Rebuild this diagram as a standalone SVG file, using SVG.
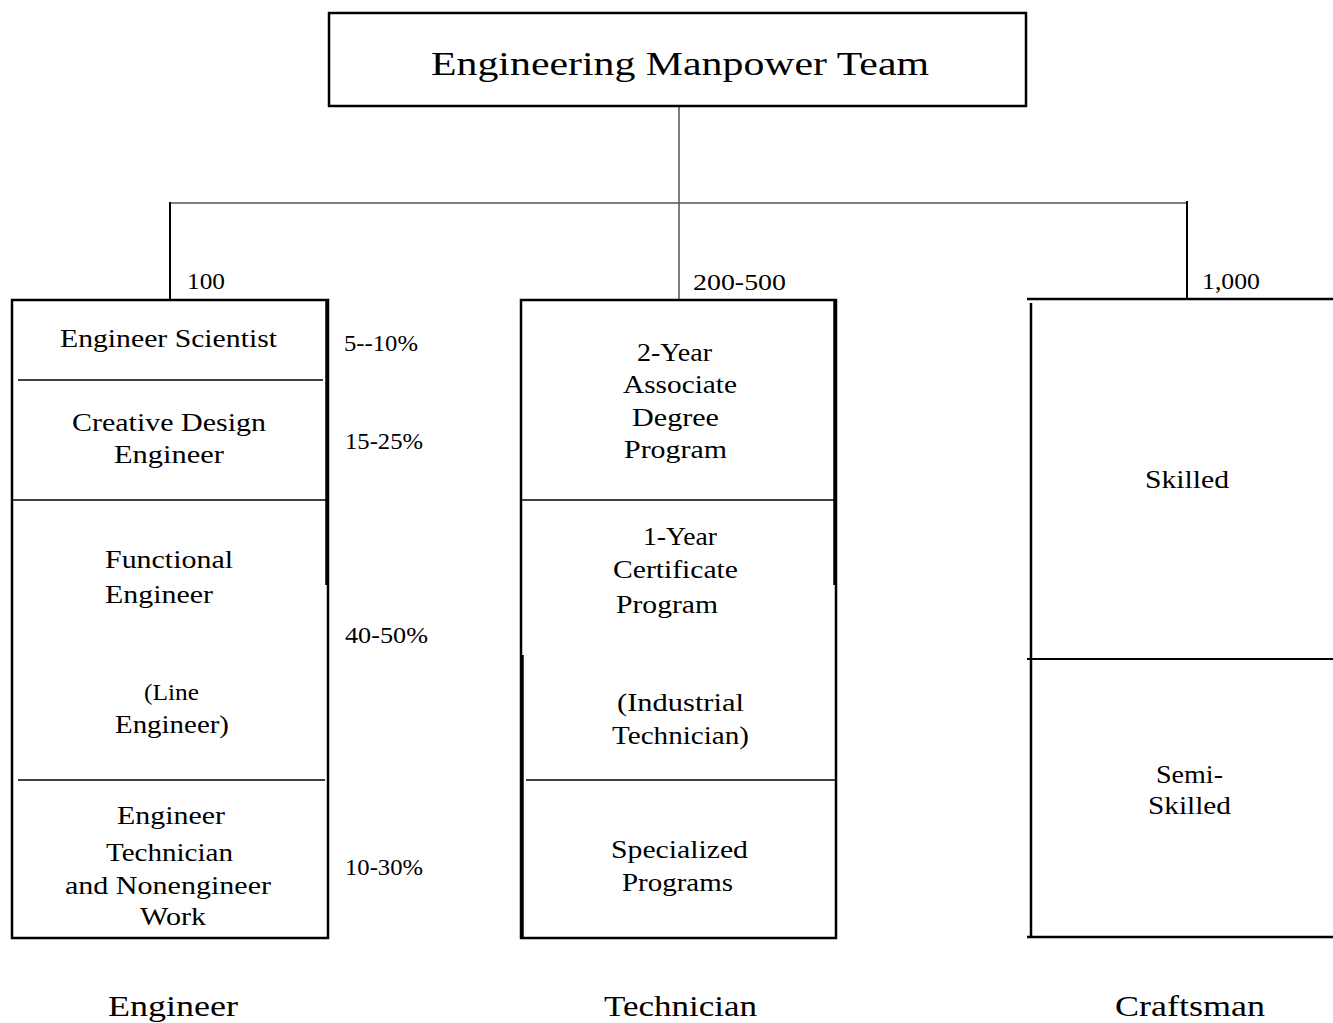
<svg xmlns="http://www.w3.org/2000/svg" width="1333" height="1023" viewBox="0 0 1333 1023">
<style>
text{font-family:"Liberation Serif","Times New Roman",serif;fill:#000}
.t{font-size:26px;text-anchor:middle}
.s{font-size:26px;text-anchor:start}
.n{font-size:23px}
.b{font-size:29px;text-anchor:middle}
.box{fill:none;stroke:#000;stroke-width:2.5}
.ln{stroke:#000;stroke-width:1.5;fill:none}
.thin{stroke:#555;stroke-width:1.5;fill:none}
</style>
<rect width="1333" height="1023" fill="#fff"/>
<g id="connectors">
<line class="thin" x1="679" y1="106" x2="679" y2="299"/>
<line class="thin" x1="170" y1="203" x2="1187" y2="203"/>
<line x1="170" y1="202" x2="170" y2="300" stroke="#000" stroke-width="2"/>
<line x1="1187" y1="201" x2="1187" y2="299" stroke="#000" stroke-width="2"/>
</g>
<g id="top">
<rect class="box" x="329" y="13" width="697" height="93"/>
<text x="680" y="75" style="font-size:34px;text-anchor:middle" textLength="498" lengthAdjust="spacingAndGlyphs">Engineering Manpower Team</text>
</g>
<g id="engineer">
<rect class="box" x="12" y="300" width="316" height="638"/>
<line x1="327" y1="300" x2="327" y2="585" stroke="#000" stroke-width="3.5"/>
<line class="ln" x1="18" y1="380" x2="323" y2="380"/>
<line class="ln" x1="12" y1="500" x2="328" y2="500"/>
<line class="ln" x1="18" y1="780" x2="325" y2="780"/>
<text class="n" x="187" y="289" textLength="38" lengthAdjust="spacingAndGlyphs">100</text>
<text class="t" x="168.5" y="347" textLength="217" lengthAdjust="spacingAndGlyphs">Engineer Scientist</text>
<text class="t" x="169" y="431" textLength="194" lengthAdjust="spacingAndGlyphs">Creative Design</text>
<text class="t" x="169" y="463" textLength="110" lengthAdjust="spacingAndGlyphs">Engineer</text>
<text class="s" x="105" y="568" textLength="128" lengthAdjust="spacingAndGlyphs">Functional</text>
<text class="s" x="105" y="603" textLength="108" lengthAdjust="spacingAndGlyphs">Engineer</text>
<text class="t" x="171.5" y="700" style="font-size:23px" textLength="55" lengthAdjust="spacingAndGlyphs">(Line</text>
<text class="t" x="172" y="733" textLength="114" lengthAdjust="spacingAndGlyphs">Engineer)</text>
<text class="t" x="171" y="824" textLength="108" lengthAdjust="spacingAndGlyphs">Engineer</text>
<text class="t" x="169.5" y="861" textLength="127" lengthAdjust="spacingAndGlyphs">Technician</text>
<text class="t" x="168" y="894" textLength="206" lengthAdjust="spacingAndGlyphs">and Nonengineer</text>
<text class="t" x="173" y="925" textLength="66" lengthAdjust="spacingAndGlyphs">Work</text>
<text class="n" x="344" y="351" textLength="74" lengthAdjust="spacingAndGlyphs">5--10%</text>
<text class="n" x="345" y="449" textLength="78" lengthAdjust="spacingAndGlyphs">15-25%</text>
<text class="n" x="345" y="643" textLength="83" lengthAdjust="spacingAndGlyphs">40-50%</text>
<text class="n" x="345" y="875" textLength="78" lengthAdjust="spacingAndGlyphs">10-30%</text>
<text class="b" x="173" y="1016" textLength="130" lengthAdjust="spacingAndGlyphs">Engineer</text>
</g>
<g id="technician">
<rect class="box" x="521" y="300" width="315" height="638"/>
<line x1="835" y1="300" x2="835" y2="585" stroke="#000" stroke-width="3.5"/>
<line x1="522" y1="655" x2="522" y2="938" stroke="#000" stroke-width="3.5"/>
<line class="ln" x1="521" y1="500" x2="836" y2="500"/>
<line class="ln" x1="526" y1="780" x2="835" y2="780"/>
<text class="n" x="693" y="290" textLength="93" lengthAdjust="spacingAndGlyphs">200-500</text>
<text class="t" x="674.5" y="361" textLength="75" lengthAdjust="spacingAndGlyphs">2-Year</text>
<text class="t" x="680" y="393" textLength="114" lengthAdjust="spacingAndGlyphs">Associate</text>
<text class="t" x="675.5" y="426" textLength="87" lengthAdjust="spacingAndGlyphs">Degree</text>
<text class="t" x="675.5" y="458" textLength="103" lengthAdjust="spacingAndGlyphs">Program</text>
<text class="t" x="680" y="545" textLength="74" lengthAdjust="spacingAndGlyphs">1-Year</text>
<text class="t" x="675.5" y="578" textLength="125" lengthAdjust="spacingAndGlyphs">Certificate</text>
<text class="t" x="667" y="613" textLength="102" lengthAdjust="spacingAndGlyphs">Program</text>
<text class="t" x="680.5" y="711" textLength="127" lengthAdjust="spacingAndGlyphs">(Industrial</text>
<text class="t" x="680.5" y="744" textLength="137" lengthAdjust="spacingAndGlyphs">Technician)</text>
<text class="t" x="679.5" y="858" textLength="137" lengthAdjust="spacingAndGlyphs">Specialized</text>
<text class="t" x="677.5" y="891" textLength="111" lengthAdjust="spacingAndGlyphs">Programs</text>
<text class="b" x="680.5" y="1016" textLength="153" lengthAdjust="spacingAndGlyphs">Technician</text>
</g>
<g id="craftsman">
<line x1="1027" y1="299" x2="1333" y2="299" stroke="#000" stroke-width="2.5"/>
<line x1="1031" y1="303" x2="1031" y2="936" stroke="#000" stroke-width="2.5"/>
<line x1="1027" y1="659" x2="1333" y2="659" stroke="#000" stroke-width="2"/>
<line x1="1027" y1="937" x2="1333" y2="937" stroke="#000" stroke-width="2.5"/>
<text class="n" x="1202" y="289" textLength="58" lengthAdjust="spacingAndGlyphs">1,000</text>
<text class="t" x="1187" y="488" textLength="84" lengthAdjust="spacingAndGlyphs">Skilled</text>
<text class="t" x="1189.5" y="783" textLength="67" lengthAdjust="spacingAndGlyphs">Semi-</text>
<text class="t" x="1189.5" y="814" textLength="83" lengthAdjust="spacingAndGlyphs">Skilled</text>
<text class="b" x="1190" y="1016" textLength="150" lengthAdjust="spacingAndGlyphs">Craftsman</text>
</g>
</svg>
